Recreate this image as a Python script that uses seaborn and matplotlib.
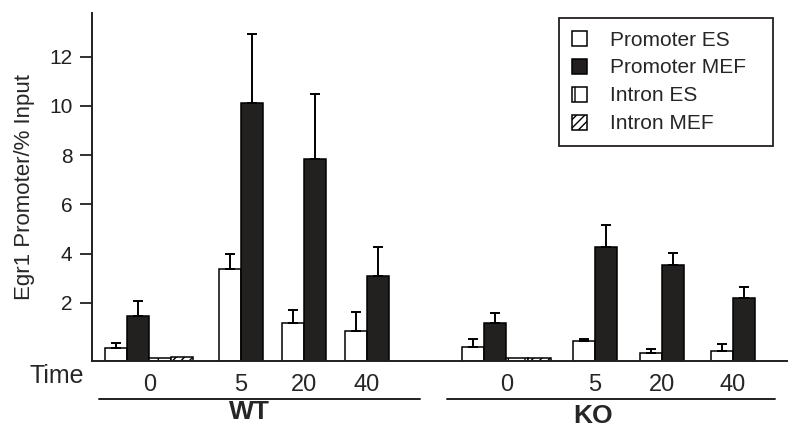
import matplotlib
matplotlib.use("Agg")
import numpy as np
import pandas as pd
import matplotlib.pyplot as plt
import seaborn as sns
from matplotlib.patches import Patch

# ---------------- data (tick-scale values) ----------------
genotypes = ["WT", "KO"]
times = ["0", "5", "20", "40"]
series = ["Promoter ES", "Promoter MEF", "Intron ES", "Intron MEF"]

wt_promoter_es = [0.15, 3.36, 1.17, 0.84]
wt_promoter_es_err = [0.20, 0.62, 0.52, 0.77]
wt_promoter_mef = [1.46, 10.13, 7.83, 3.09]
wt_promoter_mef_err = [0.62, 2.81, 2.64, 1.19]
wt_intron_es = [-0.26]          # measured only at time 0
wt_intron_mef = [-0.22]

ko_promoter_es = [0.21, 0.43, -0.06, 0.05]
ko_promoter_es_err = [0.30, 0.11, 0.19, 0.28]
ko_promoter_mef = [1.19, 4.28, 3.55, 2.19]
ko_promoter_mef_err = [0.38, 0.88, 0.47, 0.45]
ko_intron_es = [-0.26]
ko_intron_mef = [-0.24]

y_ticks = [2, 4, 6, 8, 10, 12]

# ---------------- layout ----------------
W, H = 800, 444
BW = 22.15                       # bar width in x units
FLOOR = -0.37                    # value at which the x axis sits
YTOP = 13.78
group_centers = {"WT": [149.2, 241.0, 303.7, 366.7],
                 "KO": [506.2, 595.0, 662.3, 733.0]}
XMIN, XMAX = 92.0, 786.7

colors = {"Promoter ES": "white", "Promoter MEF": "#231f20",
          "Intron ES": "white", "Intron MEF": "white"}
hatches = {"Promoter ES": "", "Promoter MEF": "", "Intron ES": "|", "Intron MEF": "////"}

# ---------------- build table ----------------
rows = []
data = {
    "WT": {"Promoter ES": (wt_promoter_es, wt_promoter_es_err),
           "Promoter MEF": (wt_promoter_mef, wt_promoter_mef_err),
           "Intron ES": (wt_intron_es, [0.0]),
           "Intron MEF": (wt_intron_mef, [0.0])},
    "KO": {"Promoter ES": (ko_promoter_es, ko_promoter_es_err),
           "Promoter MEF": (ko_promoter_mef, ko_promoter_mef_err),
           "Intron ES": (ko_intron_es, [0.0]),
           "Intron MEF": (ko_intron_mef, [0.0])},
}
for g in genotypes:
    for ti, t in enumerate(times):
        present = [s for s in series if ti < len(data[g][s][0])]
        n = len(present)
        for k, s in enumerate(present):
            vals, errs = data[g][s]
            x = group_centers[g][ti] + (k - (n - 1) / 2) * BW
            rows.append(dict(genotype=g, time=t, series=s, x=x,
                             value=vals[ti], err=errs[ti],
                             height=vals[ti] - FLOOR))
df = pd.DataFrame(rows)

# ---------------- plot ----------------
sns.set_style("ticks")
plt.rcParams["font.family"] = ["Liberation Sans", "DejaVu Sans"]
NARROW = ["Liberation Sans Narrow", "Liberation Sans", "DejaVu Sans"]

fig = plt.figure(figsize=(W / 100, H / 100), dpi=100)
ax = fig.add_axes([XMIN / W, (H - 361) / H, (XMAX - XMIN) / W, (361 - 13) / H])

sns.barplot(data=df, x="x", y="height", hue="series", hue_order=series,
            palette=colors, native_scale=True, dodge=False, width=1.0,
            orient="x", errorbar=None, bottom=FLOOR, edgecolor="black",
            linewidth=1.1, legend=False, ax=ax)

for cont, s in zip(ax.containers, series):
    for p in cont:
        p.set_hatch(hatches[s])

err_df = df[df["err"] > 0]
ax.errorbar(err_df["x"], err_df["value"],
            yerr=[np.zeros(len(err_df)), err_df["err"]],
            fmt="none", ecolor="black", elinewidth=1.4, capsize=3.9,
            capthick=1.4, zorder=1)

ax.set_xlim(XMIN, XMAX)
ax.set_ylim(FLOOR, YTOP)
ax.set_yticks(y_ticks)
ax.set_yticklabels([str(v) for v in y_ticks], fontsize=15)
centers = group_centers["WT"] + group_centers["KO"]
ax.set_xticks(centers)
ax.set_xticklabels(times + times, fontsize=17, family=NARROW)
ax.tick_params(axis="x", length=0, pad=9)
ax.tick_params(axis="y", length=9, width=1.3, pad=5, colors="#231f20")
ax.set_xlabel("")
ax.set_ylabel("Egr1 Promoter/% Input", fontsize=16, labelpad=10)
for side in ["top", "right"]:
    ax.spines[side].set_visible(False)
for side in ["left", "bottom"]:
    ax.spines[side].set_linewidth(1.4)
    ax.spines[side].set_color("#231f20")

# group lines and labels
tr = ax.get_xaxis_transform()
line_y = (361 - 399) / 348
ax.plot([99, 420], [line_y, line_y], transform=tr, clip_on=False,
        color="#231f20", lw=1.4)
ax.plot([447, 775], [line_y, line_y], transform=tr, clip_on=False,
        color="#231f20", lw=1.4)
ax.text(249, (361 - 412) / 348, "WT", transform=tr, ha="center", va="center",
        fontsize=19, fontweight="bold", family=NARROW)
ax.text(593, (361 - 416) / 348, "KO", transform=tr, ha="center", va="center",
        fontsize=19, fontweight="bold", family=NARROW)
fig.text(30 / W, 1 - 376 / H, "Time", ha="left", va="center",
         fontsize=18, family=NARROW)

handles = [Patch(facecolor=colors[s], edgecolor="black", hatch=hatches[s],
                 linewidth=1.1, label=s) for s in series]
leg = ax.legend(handles=handles, loc="upper left", mode="expand",
                bbox_to_anchor=(559 / W, (H - 144) / H, 214 / W, 126 / H),
                bbox_transform=fig.transFigure, fontsize=15,
                frameon=True, fancybox=False, framealpha=1,
                edgecolor="#231f20", handlelength=0.72, handleheight=0.72,
                handletextpad=1.15, labelspacing=0.43, borderpad=0.6,
                borderaxespad=0)
leg.get_frame().set_linewidth(1.3)

fig.savefig("out.png", dpi=100)
